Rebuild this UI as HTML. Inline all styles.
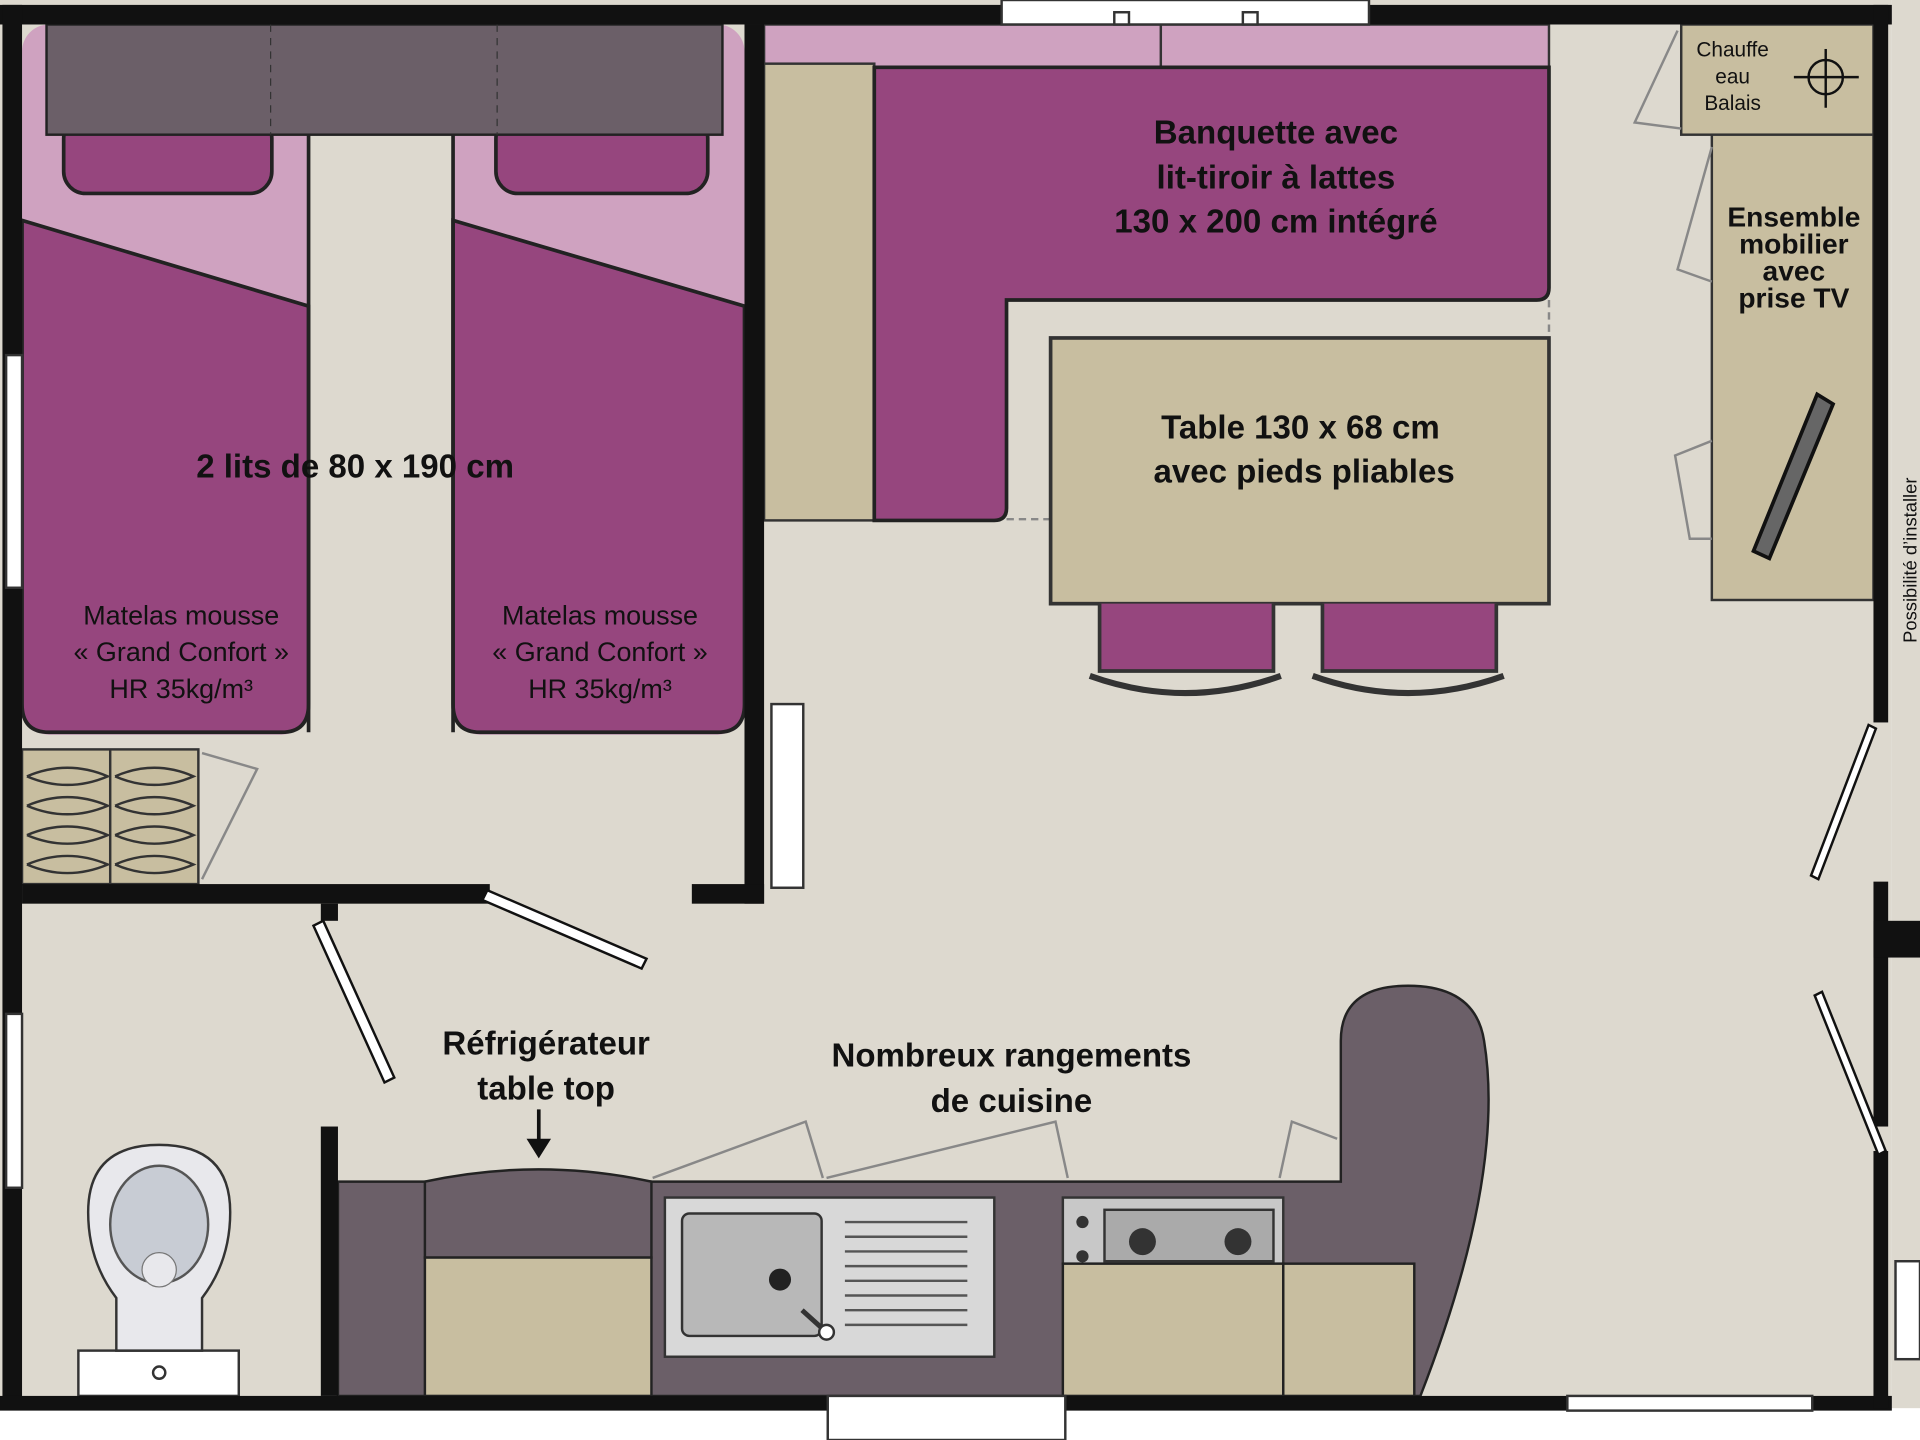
<!DOCTYPE html>
<html><head><meta charset="utf-8"><style>
html,body{margin:0;padding:0;background:#fff;}
svg{display:block;}
text{font-family:"Liberation Sans",sans-serif;}
</style></head><body>
<svg width="1920" height="1440" viewBox="0 0 1568 1176" preserveAspectRatio="none" xmlns="http://www.w3.org/2000/svg">
<rect x="0" y="0" width="1568" height="1176" fill="#fff"/>
<rect x="0" y="0" width="1545" height="1150" fill="#ddd9cf"/>
<rect x="1545" y="0" width="23" height="1150" fill="#ddd9cf"/>
<!-- beds -->
<rect x="18" y="20" width="234" height="580" rx="22" fill="#cfa2c0"/>
<rect x="370" y="20" width="238" height="580" rx="22" fill="#cfa2c0"/>
<path d="M18 180 L252 250 L252 575 Q252 598 230 598 L40 598 Q18 598 18 575 Z" fill="#96467e" stroke="#222" stroke-width="3"/>
<path d="M370 180 L608 250 L608 575 Q608 598 586 598 L392 598 Q370 598 370 575 Z" fill="#96467e" stroke="#222" stroke-width="3"/>
<line x1="252" y1="110" x2="252" y2="598" stroke="#222" stroke-width="3"/>
<line x1="370" y1="110" x2="370" y2="598" stroke="#222" stroke-width="3"/>
<rect x="52" y="95" width="170" height="63" rx="18" fill="#96467e" stroke="#222" stroke-width="3"/>
<rect x="405" y="95" width="173" height="63" rx="18" fill="#96467e" stroke="#222" stroke-width="3"/>
<rect x="38" y="20" width="552" height="90" fill="#6b5f68" stroke="#222" stroke-width="2"/>
<line x1="221" y1="20" x2="221" y2="110" stroke="#333" stroke-dasharray="6,5"/>
<line x1="406" y1="20" x2="406" y2="110" stroke="#333" stroke-dasharray="6,5"/>
<text x="290" y="390" font-size="27" font-weight="bold" text-anchor="middle" fill="#111">2 lits de 80 x 190 cm</text>
<g font-size="22" fill="#111" text-anchor="middle">
<text x="148" y="510">Matelas mousse</text><text x="148" y="540">« Grand Confort »</text><text x="148" y="570">HR 35kg/m³</text>
<text x="490" y="510">Matelas mousse</text><text x="490" y="540">« Grand Confort »</text><text x="490" y="570">HR 35kg/m³</text>
</g>
<!-- bedroom shelf -->
<rect x="18" y="612" width="144" height="110" fill="#c8bea0" stroke="#333" stroke-width="2"/>
<line x1="90" y1="612" x2="90" y2="722" stroke="#333" stroke-width="2"/>
<g fill="none" stroke="#333" stroke-width="2">
<path d="M22 634 Q55 620 88 634 Q55 648 22 634"/><path d="M22 658 Q55 644 88 658 Q55 672 22 658"/><path d="M22 682 Q55 668 88 682 Q55 696 22 682"/><path d="M22 706 Q55 692 88 706 Q55 720 22 706"/>
<path d="M94 634 Q126 620 158 634 Q126 648 94 634"/><path d="M94 658 Q126 644 158 658 Q126 672 94 658"/><path d="M94 682 Q126 668 158 682 Q126 696 94 682"/><path d="M94 706 Q126 692 158 706 Q126 720 94 706"/>
<path d="M165 615 L210 628 L165 718" stroke="#888"/>
</g>
<!-- banquette -->
<rect x="624" y="20" width="641" height="35" fill="#cfa2c0" stroke="#333" stroke-width="2"/>
<line x1="948" y1="20" x2="948" y2="55" stroke="#333" stroke-width="2"/>
<rect x="624" y="52" width="90" height="373" fill="#c8bea0" stroke="#333" stroke-width="2"/>
<path d="M714 55 L1265 55 L1265 235 Q1265 245 1255 245 L822 245 L822 415 Q822 425 812 425 L714 425 Z" fill="#96467e" stroke="#222" stroke-width="3"/>
<g font-size="27" font-weight="bold" fill="#111" text-anchor="middle">
<text x="1042" y="117">Banquette avec</text><text x="1042" y="154">lit-tiroir à lattes</text><text x="1042" y="190">130 x 200 cm intégré</text>
</g>
<line x1="822" y1="424" x2="1265" y2="424" stroke="#888" stroke-width="2" stroke-dasharray="6,4"/>
<line x1="1265" y1="245" x2="1265" y2="424" stroke="#888" stroke-width="2" stroke-dasharray="6,4"/>
<rect x="858" y="276" width="407" height="217" fill="#c8bea0" stroke="#333" stroke-width="3"/>
<g font-size="27" font-weight="bold" fill="#111" text-anchor="middle">
<text x="1062" y="358">Table 130 x 68 cm</text><text x="1065" y="394">avec pieds pliables</text>
</g>
<!-- chairs -->
<path d="M898 493 L898 548 L1040 548 L1040 493" fill="#96467e" stroke="#333" stroke-width="3"/>
<path d="M890 552 Q968 580 1046 552" fill="none" stroke="#333" stroke-width="5"/>
<path d="M1080 493 L1080 548 L1222 548 L1222 493" fill="#96467e" stroke="#333" stroke-width="3"/>
<path d="M1072 552 Q1150 580 1228 552" fill="none" stroke="#333" stroke-width="5"/>
<!-- right furniture -->
<rect x="1373" y="20" width="157" height="90" fill="#c8bea0" stroke="#333" stroke-width="2"/>
<g font-size="17" fill="#111" text-anchor="middle"><text x="1415" y="46">Chauffe</text><text x="1415" y="68">eau</text><text x="1415" y="90">Balais</text></g>
<circle cx="1491" cy="63" r="14" fill="none" stroke="#111" stroke-width="2"/>
<line x1="1465" y1="63" x2="1518" y2="63" stroke="#111" stroke-width="2"/><line x1="1491" y1="40" x2="1491" y2="88" stroke="#111" stroke-width="2"/>
<rect x="1398" y="110" width="132" height="380" fill="#c8bea0" stroke="#333" stroke-width="2"/>
<g font-size="23" font-weight="bold" fill="#111" text-anchor="middle"><text x="1465" y="185">Ensemble</text><text x="1465" y="207">mobilier</text><text x="1465" y="229">avec</text><text x="1465" y="251">prise TV</text></g>
<path d="M1432 450 L1484 322 L1497 330 L1445 456 Z" fill="#666" stroke="#111" stroke-width="3"/>
<g fill="none" stroke="#888" stroke-width="2">
<path d="M1370 25 L1335 100 L1373 105"/><path d="M1398 120 L1370 220 L1398 230"/><path d="M1398 360 L1368 372 L1380 440 L1398 440"/>
</g>
<text transform="translate(1565,525) rotate(-90)" font-size="15" fill="#111">Possibilité d’installer</text>
<!-- kitchen -->
<path d="M276 965 L1095 965 L1095 850 Q1095 805 1150 805 Q1205 805 1212 850 Q1230 960 1160 1140 L276 1140 Z" fill="#6b5f68" stroke="#222" stroke-width="2"/>
<path d="M347 965 Q440 945 532 965 L532 1027 L347 1027 Z" fill="#6b5f68" stroke="#222" stroke-width="2"/>
<rect x="347" y="1027" width="185" height="113" fill="#c8bea0" stroke="#222" stroke-width="2"/>
<rect x="543" y="978" width="269" height="130" fill="#d8d8d8" stroke="#333" stroke-width="2"/>
<rect x="557" y="991" width="114" height="100" rx="6" fill="#b8b8b8" stroke="#333" stroke-width="2"/>
<circle cx="637" cy="1045" r="9" fill="#222"/>
<line x1="655" y1="1070" x2="675" y2="1088" stroke="#333" stroke-width="4"/><circle cx="675" cy="1088" r="6" fill="#fff" stroke="#333" stroke-width="2"/>
<g stroke="#555" stroke-width="2"><line x1="690" y1="998" x2="790" y2="998"/><line x1="690" y1="1010" x2="790" y2="1010"/><line x1="690" y1="1022" x2="790" y2="1022"/><line x1="690" y1="1034" x2="790" y2="1034"/><line x1="690" y1="1046" x2="790" y2="1046"/><line x1="690" y1="1058" x2="790" y2="1058"/><line x1="690" y1="1070" x2="790" y2="1070"/><line x1="690" y1="1082" x2="790" y2="1082"/></g>
<rect x="868" y="978" width="180" height="54" fill="#c8c8c8" stroke="#333" stroke-width="2"/>
<rect x="902" y="988" width="138" height="42" fill="#aaa" stroke="#333" stroke-width="2"/>
<circle cx="933" cy="1014" r="11" fill="#333"/><circle cx="1011" cy="1014" r="11" fill="#333"/>
<circle cx="884" cy="998" r="5" fill="#333"/><circle cx="884" cy="1026" r="5" fill="#333"/>
<rect x="868" y="1032" width="180" height="108" fill="#c8bea0" stroke="#222" stroke-width="2"/>
<rect x="1048" y="1032" width="107" height="108" fill="#c8bea0" stroke="#222" stroke-width="2"/>
<g fill="none" stroke="#888" stroke-width="2">
<path d="M533 962 L658 916 L672 962"/><path d="M675 962 L862 916 L872 962"/><path d="M1045 962 L1055 916 L1092 930"/>
</g>
<g font-size="27" font-weight="bold" fill="#111" text-anchor="middle">
<text x="446" y="861">Réfrigérateur</text><text x="446" y="898">table top</text>
<text x="826" y="871">Nombreux rangements</text><text x="826" y="908">de cuisine</text>
</g>
<line x1="440" y1="906" x2="440" y2="940" stroke="#111" stroke-width="3"/><path d="M430 930 L440 946 L450 930 Z" fill="#111"/>
<!-- toilet -->
<rect x="64" y="1103" width="131" height="37" fill="#fff" stroke="#333" stroke-width="2"/>
<circle cx="130" cy="1121" r="5" fill="none" stroke="#333" stroke-width="2"/>
<path d="M95 1103 L95 1060 Q72 1030 72 990 Q72 935 130 935 Q188 935 188 990 Q188 1030 165 1060 L165 1103 Z" fill="#e8e8ec" stroke="#333" stroke-width="2"/>
<ellipse cx="130" cy="1000" rx="40" ry="48" fill="#c8ccd4" stroke="#555" stroke-width="2"/>
<circle cx="130" cy="1037" r="14" fill="#e8e8ec" stroke="#777"/>
<!-- walls -->
<g fill="#111">
<rect x="0" y="4" width="1545" height="16"/>
<rect x="2" y="4" width="16" height="1146"/>
<rect x="0" y="1140" width="1545" height="12"/>
<rect x="1530" y="4" width="12" height="586"/>
<rect x="1530" y="720" width="12" height="200"/>
<rect x="1530" y="940" width="12" height="210"/>
<rect x="1530" y="752" width="38" height="30"/>
<rect x="608" y="20" width="16" height="718"/>
<rect x="565" y="722" width="59" height="16"/>
<rect x="18" y="722" width="382" height="16"/>
<rect x="262" y="738" width="14" height="14"/>
<rect x="262" y="920" width="14" height="220"/>
</g>
<!-- windows -->
<g fill="#fff" stroke="#333" stroke-width="2">
<rect x="818" y="0" width="300" height="20"/><rect x="910" y="10" width="12" height="10"/><rect x="1015" y="10" width="12" height="10"/>
<rect x="5" y="290" width="13" height="190"/><rect x="5" y="828" width="13" height="142"/>
<rect x="630" y="575" width="26" height="150"/>
<rect x="676" y="1140" width="194" height="36"/><rect x="1280" y="1140" width="200" height="12"/>
<rect x="1548" y="1030" width="20" height="80"/>
</g>
<!-- doors -->
<g fill="#fff" stroke="#111" stroke-width="2">
<path d="M398 727 L528 783 L524 791 L394 735 Z"/>
<path d="M264 752 L322 880 L314 884 L256 756 Z"/>
<path d="M1532 595 L1485 718 L1479 715 L1526 592 Z"/>
<path d="M1488 810 L1540 940 L1534 943 L1482 813 Z"/>
</g>
</svg>
</body></html>
